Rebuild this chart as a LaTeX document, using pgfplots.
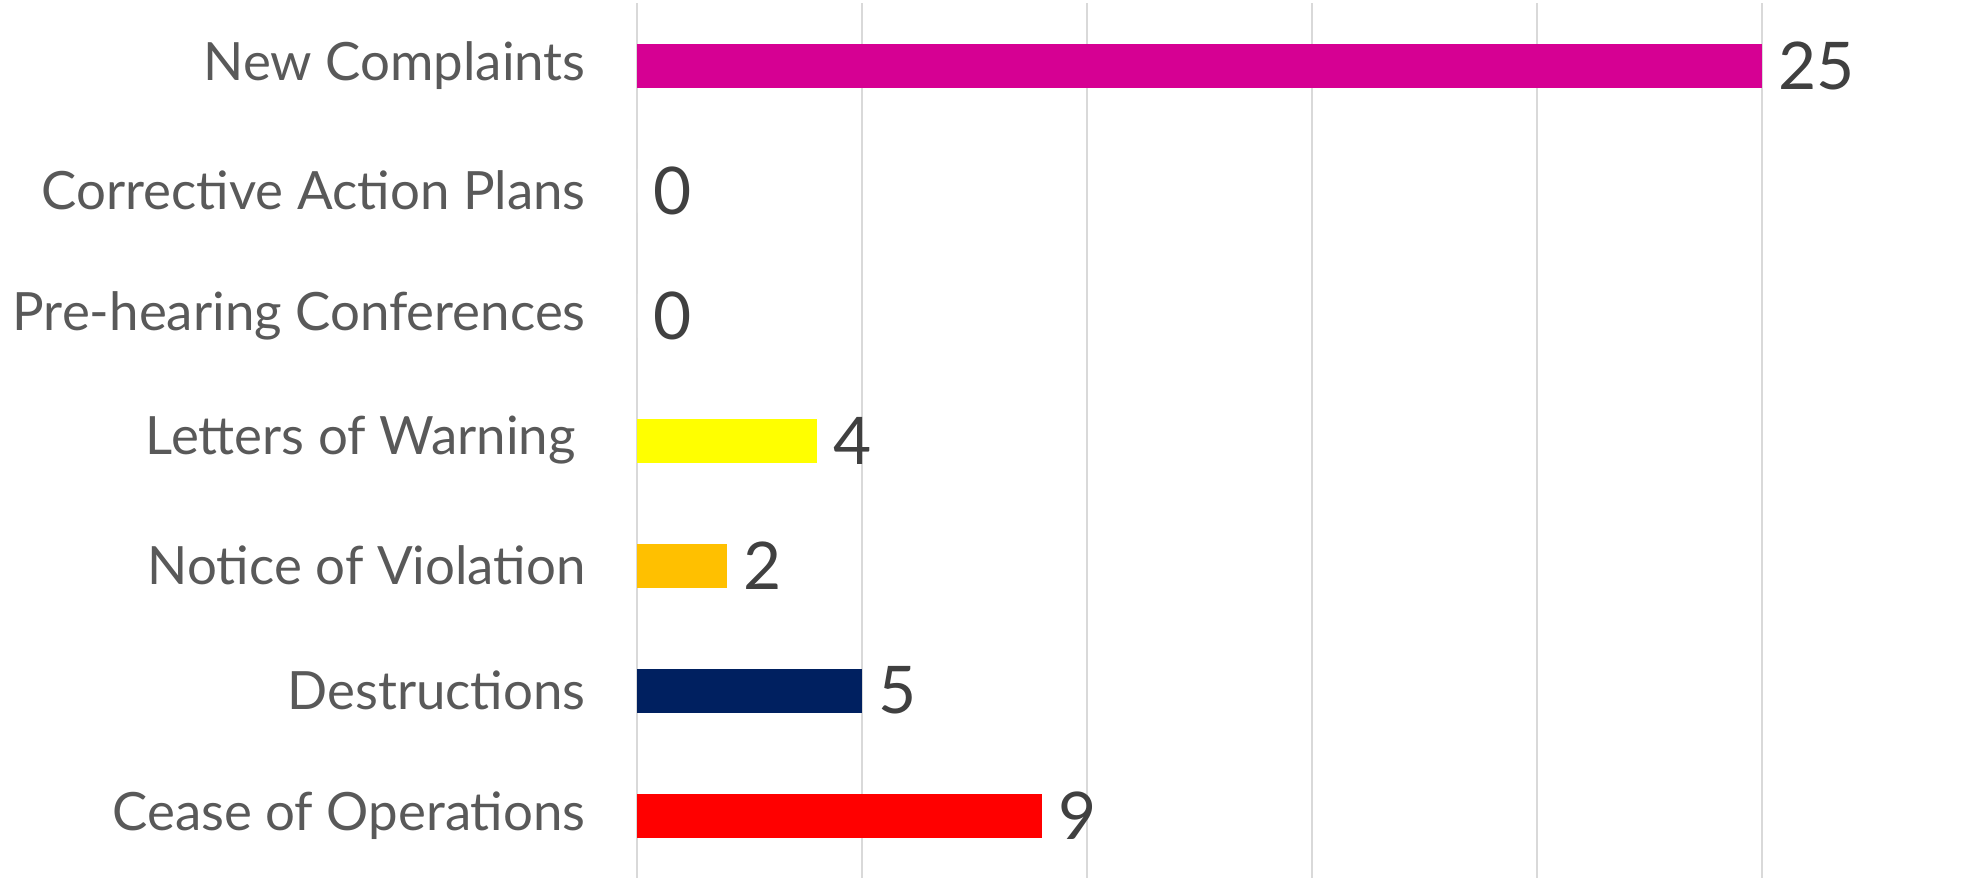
\documentclass[border=0pt]{standalone}
\usepackage{pgfplots}
\pgfplotsset{compat=1.18}
\usepackage{fontspec}
\setmainfont{Lato}
\definecolor{cMag}{HTML}{D60093}
\definecolor{cYel}{HTML}{FFFF00}
\definecolor{cOra}{HTML}{FFC000}
\definecolor{cNavy}{HTML}{002060}
\definecolor{cRed}{HTML}{FF0000}
\definecolor{gridgray}{HTML}{D9D9D9}
\definecolor{labelgray}{HTML}{595959}
\definecolor{valgray}{HTML}{404040}
\begin{document}
\begin{tikzpicture}
\useasboundingbox (0,0) rectangle (992.5bp,440bp);
\begin{axis}[
  at={(318.5bp,1bp)}, anchor=south west,
  scale only axis, width=675bp, height=437.5bp,
  xbar, bar width=22bp, bar shift=0pt,
  xmin=0, xmax=30, ymin=-0.5, ymax=6.5, y dir=reverse,
  axis line style={draw=none},
  xtick={0,5,...,30}, xticklabels={},
  xmajorgrids, grid style={color=gridgray, line width=0.75bp},
  ytick={0,...,6},
  yticklabels={New Complaints,Corrective Action Plans,Pre-hearing Conferences,{Letters of Warning\rule{5bp}{0pt}},Notice of Violation,Destructions,Cease of Operations},
  major tick length=0pt,
  yticklabel style={font=\fontsize{26.5}{30}\selectfont, text=labelgray, inner sep=0pt, xshift=-25.5bp},
  /pgf/number format/assume math mode=true,
  nodes near coords,
  every node near coord/.append style={anchor=west, inner sep=0pt, xshift=8bp, font=\fontsize{33}{38}\selectfont, text=valgray},
  clip=false,
]
\addplot[fill=cMag, draw=none] coordinates {(25,0)};
\addplot[fill=white, draw=none] coordinates {(0,1)};
\addplot[fill=white, draw=none] coordinates {(0,2)};
\addplot[fill=cYel, draw=none] coordinates {(4,3)};
\addplot[fill=cOra, draw=none] coordinates {(2,4)};
\addplot[fill=cNavy, draw=none] coordinates {(5,5)};
\addplot[fill=cRed, draw=none] coordinates {(9,6)};
\end{axis}
\end{tikzpicture}
\end{document}
